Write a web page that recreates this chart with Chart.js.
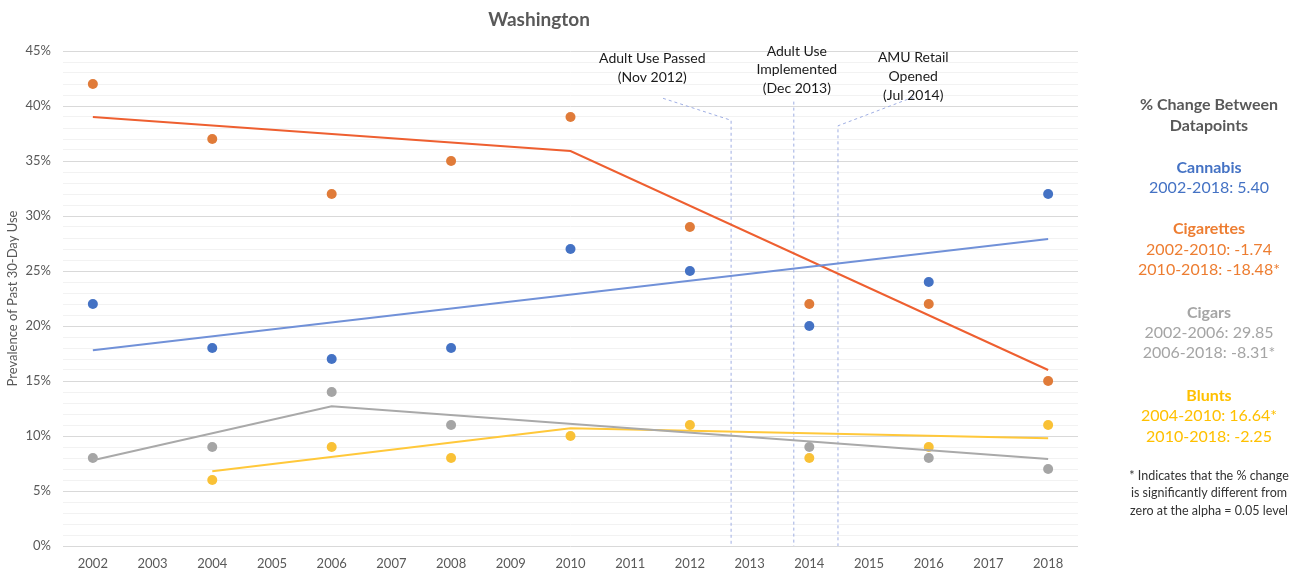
<!DOCTYPE html>
<html>
<head>
<meta charset="utf-8">
<script src="https://cdn.jsdelivr.net/npm/chart.js@4"></script>
<style>
  html, body { margin: 0; padding: 0; background: #fff; }
  #wrap { position: relative; width: 1309px; height: 574px; }
</style>
</head>
<body>
<div id="wrap"><canvas id="chart" width="1309" height="574"></canvas></div>
<script>
// ===== Data =====
const years = [2002, 2004, 2006, 2008, 2010, 2012, 2014, 2016, 2018];
const xTickLabels = ['2002', '2003', '2004', '2005', '2006', '2007', '2008', '2009', '2010',
                     '2011', '2012', '2013', '2014', '2015', '2016', '2017', '2018'];
const yTickLabels = ['0%', '5%', '10%', '15%', '20%', '25%', '30%', '35%', '40%', '45%'];

const cannabis   = [22, 18, 17, 18, 27, 25, 20, 24, 32];
const cigarettes = [42, 37, 32, 35, 39, 29, 22, 22, 15];
const cigars     = [8, 9, 14, 11, null, null, 9, 8, 7];
const blunts     = [null, 6, 9, 8, 10, 11, 8, 9, 11];

// joinpoint trend segments [year, value]
const cannabisTrend   = [[2002, 17.8], [2018, 27.9]];
const cigarettesTrend = [[2002, 39.0], [2010, 35.9], [2018, 16.0]];
const cigarsTrend     = [[2002, 7.8], [2006, 12.7], [2018, 7.9]];
const bluntsTrend     = [[2004, 6.8], [2010, 10.7], [2018, 9.8]];

// policy events (fractional year)
const events = [
    { date: 2012.69, label: ['Adult Use Passed', '(Nov 2012)'] },
    { date: 2013.74, label: ['Adult Use', 'Implemented', '(Dec 2013)'] },
    { date: 2014.48, label: ['AMU Retail', 'Opened', '(Jul 2014)'] }
];

// ===== Colours / layout =====
const C = {
    blue: '#4472C4', blueLine: '#7191D8',
    orange: '#E07B39', orangeLine: '#EE5F30',
    gray: '#A5A5A5', grayLine: '#A9A9A9',
    yellow: '#F9C136', yellowLine: '#FFC83A',
    text: '#595959'
};
const FONT = 'Lato, "Open Sans", sans-serif';

// annotation geometry, in chart units (year, %)
const eventGeom = [
    { lead: [2011.55, 40.7], top: 38.7, textX: 2011.37, textY: [44.3, 42.6] },
    { lead: null, top: 40.4, textX: 2013.79, textY: [45.0, 43.3, 41.6] },
    { lead: [2015.74, 40.8], top: 38.2, textX: 2015.74, textY: [44.4, 42.7, 41.0] }
];

const sidePanel = [
    { t: '% Change Between', y: 105, c: C.text, b: true },
    { t: 'Datapoints', y: 126, c: C.text, b: true },
    { t: 'Cannabis', y: 168, c: C.blue, b: true },
    { t: '2002-2018: 5.40', y: 188, c: C.blue },
    { t: 'Cigarettes', y: 229, c: '#ED7D31', b: true },
    { t: '2002-2010: -1.74', y: 250, c: '#ED7D31' },
    { t: '2010-2018: -18.48*', y: 270, c: '#ED7D31' },
    { t: 'Cigars', y: 313, c: C.gray, b: true },
    { t: '2002-2006: 29.85', y: 333, c: C.gray },
    { t: '2006-2018: -8.31*', y: 353, c: C.gray },
    { t: 'Blunts', y: 396, c: '#FFC000', b: true },
    { t: '2004-2010: 16.64*', y: 416, c: '#FFC000' },
    { t: '2010-2018: -2.25', y: 437, c: '#FFC000' },
    { t: '* Indicates that the % change', y: 476, c: '#333333', s: 12.5 },
    { t: 'is significantly different from', y: 493, c: '#333333', s: 12.5 },
    { t: 'zero at the alpha = 0.05 level', y: 511, c: '#333333', s: 12.5 }
];

function pts(vals) {
    return years.map((yr, i) => ({ x: yr, y: vals[i] }));
}
function seg(arr) {
    return arr.map(p => ({ x: p[0], y: p[1] }));
}
function scatter(label, vals, color) {
    return {
        type: 'scatter', label: label, data: pts(vals),
        backgroundColor: color, borderWidth: 0, pointRadius: 5, pointHoverRadius: 5
    };
}
function trend(label, arr, color) {
    return {
        type: 'line', label: label, data: seg(arr),
        borderColor: color, borderWidth: 2, pointRadius: 0, fill: false, tension: 0
    };
}

// ===== Plugins =====
const annotations = {
    id: 'annotations',
    beforeDatasetsDraw(chart) {
        const ctx = chart.ctx, x = chart.scales.x, y = chart.scales.y;
        ctx.save();
        ctx.strokeStyle = '#9FAEE3';
        ctx.lineWidth = 1;
        ctx.setLineDash([3, 3]);
        events.forEach((ev, i) => {
            const g = eventGeom[i];
            const px = x.getPixelForValue(ev.date);
            ctx.beginPath();
            if (g.lead) ctx.moveTo(x.getPixelForValue(g.lead[0]), y.getPixelForValue(g.lead[1]));
            else ctx.moveTo(px, y.getPixelForValue(g.top));
            ctx.lineTo(px, y.getPixelForValue(g.top));
            ctx.lineTo(px, y.getPixelForValue(0));
            ctx.stroke();
        });
        ctx.restore();
    },
    afterDraw(chart) {
        const ctx = chart.ctx, x = chart.scales.x, y = chart.scales.y;
        ctx.save();
        ctx.textAlign = 'center';
        ctx.textBaseline = 'middle';
        ctx.fillStyle = '#1a1a1a';
        ctx.font = '14px ' + FONT;
        events.forEach((ev, i) => {
            const g = eventGeom[i];
            ev.label.forEach((line, j) => {
                ctx.fillText(line, x.getPixelForValue(g.textX), y.getPixelForValue(g.textY[j]));
            });
        });
        // chart title
        ctx.fillStyle = C.text;
        ctx.font = 'bold 19px ' + FONT;
        ctx.fillText('Washington', 539, 20);
        // side panel
        sidePanel.forEach(r => {
            ctx.fillStyle = r.c;
            ctx.font = (r.b ? 'bold ' : '') + (r.s || 16) + 'px ' + FONT;
            ctx.fillText(r.t, 1209, r.y);
        });
        ctx.restore();
    }
};

// ===== Chart =====
new Chart(document.getElementById('chart'), {
    data: {
        datasets: [
            trend('Cannabis trend', cannabisTrend, C.blueLine),
            trend('Cigarettes trend', cigarettesTrend, C.orangeLine),
            trend('Cigars trend', cigarsTrend, C.grayLine),
            trend('Blunts trend', bluntsTrend, C.yellowLine),
            scatter('Cannabis', cannabis, C.blue),
            scatter('Cigarettes', cigarettes, C.orange),
            scatter('Cigars', cigars, C.gray),
            scatter('Blunts', blunts, C.yellow)
        ]
    },
    options: {
        responsive: false,
        animation: false,
        layout: { padding: { top: 51, right: 231, left: 0, bottom: 0 } },
        plugins: { legend: { display: false }, tooltip: { enabled: false } },
        scales: {
            x: {
                type: 'linear', min: 2001.5, max: 2018.5,
                afterBuildTicks: s => { s.ticks = xTickLabels.map((l, i) => ({ value: 2002 + i })); },
                afterFit: s => { s.height = 28; },
                ticks: {
                    callback: (v, i) => xTickLabels[i],
                    color: C.text, font: { family: FONT, size: 13 }, padding: 2, maxRotation: 0
                },
                grid: { display: false },
                border: { display: false }
            },
            y: {
                min: 0, max: 45,
                afterBuildTicks: s => {
                    const t = [];
                    for (let v = 0; v <= 45; v++) t.push({ value: v });
                    s.ticks = t;
                },
                afterFit: s => { s.width = 63; },
                ticks: {
                    autoSkip: false,
                    callback: v => (v % 5 === 0 ? yTickLabels[v / 5] : ''),
                    color: C.text, font: { family: FONT, size: 13 }, padding: 12
                },
                grid: {
                    drawTicks: false,
                    color: c => (c.tick && c.tick.value % 5 === 0 ? '#D9D9D9' : '#F2F2F2'),
                    lineWidth: 1
                },
                border: { display: false },
                title: {
                    display: true, text: 'Prevalence of Past 30-Day Use',
                    color: C.text, font: { family: FONT, size: 13 }, padding: { top: 5, bottom: 0 }
                }
            }
        }
    },
    plugins: [annotations]
});
</script>
</body>
</html>
